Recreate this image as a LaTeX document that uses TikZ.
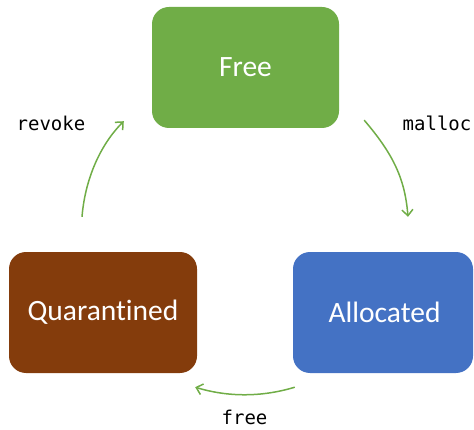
\documentclass[tikz,border=0pt]{standalone}
\usepackage{fontspec}
\setmainfont{Carlito}[Ligatures=NoCommon]
\newfontfamily\codefont{DejaVu Sans Mono}
\usetikzlibrary{arrows.meta,calc}

\definecolor{freegreen}{HTML}{70AD47}
\definecolor{allocblue}{HTML}{4472C4}
\definecolor{quarbrown}{HTML}{843C0C}

\tikzset{
  statebox/.style={rectangle, rounded corners=17pt, draw=none,
    minimum height=121pt, text=white, inner sep=0pt,
    font=\fontsize{29.5}{34}\selectfont},
  flow/.style={draw=freegreen, line width=1.5pt,
    -{Straight Barb[length=6pt,width=11pt,line width=1.5pt]}},
  oplabel/.style={font=\codefont\fontsize{19}{22}\selectfont, text=black, inner sep=0pt}
}

\begin{document}
\begin{tikzpicture}[x=1pt,y=1pt]
  \useasboundingbox (0,0) rectangle (474,429);

  % the three allocation states
  \node[statebox, fill=freegreen, minimum width=187pt] (free) at (245.5,361.5) {Free};
  \node[statebox, fill=quarbrown, minimum width=188pt] (quar) at (103,116.5) {Quarantined};
  \node[statebox, fill=allocblue, minimum width=180pt] (alloc) at (383,116.5) {\hspace{3pt}Allocated};

  % arrow end points, placed next to the boxes
  \coordinate (m0) at ($(free.south east)+(25,8)$);
  \coordinate (m1) at ($(alloc.north)+(25,35)$);
  \coordinate (f0) at ($(alloc.south west)+(2,-14)$);
  \coordinate (f1) at ($(quar.south east)+(-2,-14)$);
  \coordinate (r0) at ($(quar.north)+(-21,35)$);
  \coordinate (r1) at ($(free.south west)+(-28,7)$);

  % transitions
  \draw[flow] (m0) .. controls +(30,-35) and +(-3,37) .. (m1);
  \draw[flow] (f0) .. controls +(-33,-10) and +(33,-10) .. (f1);
  \draw[flow] (r0) .. controls +(3,37) and +(-24,-24) .. (r1);

  % transition labels
  \node[oplabel] (lmalloc) at (437,306) {malloc};
  \node[oplabel] (lfree) at (244.5,12) {free};
  \node[oplabel] (lrevoke) at (51,306) {revoke};
\end{tikzpicture}
\end{document}
